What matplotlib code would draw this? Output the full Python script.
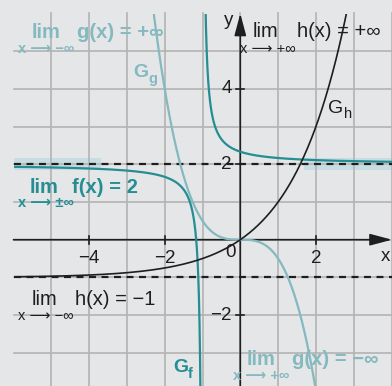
import matplotlib.pyplot as plt
import numpy as np
from matplotlib.patches import Rectangle

# function parameters
f_asym = 2.0          # lim f(x) = 2
f_pole = -1.0         # vertical asymptote of G_f
f_coef = 1.0 / 3.0    # f(x) = 2 + c/(x+1)
g_coef = -0.5         # g(x) = c * x^3
h_base = 2.0          # h(x) = b^x - 1
h_asym = -1.0

x_ticks = [-4, -2, 2]
y_ticks = [4, 2, -2]

# pixel geometry of the reference
W, H = 392, 386
ux, uy = 37.8, 37.7
x0, y0 = 240.3, 239.7
xmin, xmax = -x0 / ux, (W - x0) / ux
ymin, ymax = (y0 - H) / uy, y0 / uy

bg = '#e5e6e8'
grid_c = '#b3b3b3'
dark = '#248e93'
light = '#84b9bf'
band_c = '#c8dde2'
black = '#1e1e1e'
fam = ['Liberation Sans', 'DejaVu Sans']
ARW = '\u27f6'

fig = plt.figure(figsize=(W / 100, H / 100), dpi=100)
fig.patch.set_facecolor(bg)
ax = fig.add_axes([0, 0, 1, 1])
ax.set_facecolor(bg)
ax.set_xlim(xmin, xmax)
ax.set_ylim(ymin, ymax)
ax.axis('off')

# highlight bands along y = 2
ax.add_patch(Rectangle((-6, 1.85), -3.69 + 6, 0.31, color=band_c, lw=0, zorder=1))
ax.add_patch(Rectangle((1.69, 1.85), xmax - 1.69, 0.31, color=band_c, lw=0, zorder=1))

# grid
for gx in range(-5, 5):
    ax.plot([gx, gx], [ymin, 6], color=grid_c, lw=1.2, zorder=2)
for gy in range(-3, 6):
    ax.plot([-6, xmax], [gy, gy], color=grid_c, lw=1.2, zorder=2)

# asymptotes
lw_d = 1.6
ax.plot([-6, xmax], [f_asym, f_asym], color=black, lw=lw_d,
        ls=(0, (5 / lw_d, 4 / lw_d)), zorder=3)
ax.plot([-6, xmax], [h_asym, h_asym], color=black, lw=lw_d,
        ls=(0, (5 / lw_d, 4 / lw_d)), zorder=3)

# axes with arrows
ax.annotate('', xy=(xmax, 0), xytext=(-6, 0),
            arrowprops=dict(arrowstyle='-|>,head_length=0.75,head_width=0.2',
                            color=black, lw=1.2, mutation_scale=18,
                            shrinkA=0, shrinkB=0), zorder=4)
ax.annotate('', xy=(0, 6), xytext=(0, ymin),
            arrowprops=dict(arrowstyle='-|>,head_length=0.75,head_width=0.2',
                            color=black, lw=1.2, mutation_scale=18,
                            shrinkA=0, shrinkB=0), zorder=4)
tx, ty = 4 / ux, 4 / uy
for t in x_ticks:
    ax.plot([t, t], [-ty, ty], color=black, lw=1.2, zorder=4)
    ax.text(t, -0.5, str(t).replace('-', '\u2212'), ha='center', va='center',
            fontsize=13.5, family=fam, color=black)
for t in y_ticks:
    ax.plot([-tx, tx], [t, t], color=black, lw=1.2, zorder=4)
    ax.text(-0.22, t, str(t).replace('-', '\u2212'), ha='right', va='center',
            fontsize=13.5, family=fam, color=black)
ax.text(-0.12, -0.33, '0', ha='right', va='center', fontsize=13.5, family=fam, color=black)
ax.text(3.83, -0.45, 'x', ha='center', va='center', fontsize=13.5, family=fam, color=black)
ax.text(-0.32, 5.82, 'y', ha='center', va='center', fontsize=13.5, family=fam, color=black)

# curves, clipped to the grid area
clip = Rectangle((-6, ymin), xmax + 6, 6 - ymin, transform=ax.transData)
xl = np.linspace(-6, f_pole - 1e-4, 3000)
xr = np.linspace(f_pole + 1e-4, xmax, 3000)
xa = np.linspace(-6, xmax, 3000)
lines = []
lines += ax.plot(xl, f_asym + f_coef / (xl - f_pole), color=dark, lw=1.6, zorder=5)
lines += ax.plot(xr, f_asym + f_coef / (xr - f_pole), color=dark, lw=1.6, zorder=5)
lines += ax.plot(xa, g_coef * xa ** 3, color=light, lw=1.6, zorder=5)
lines += ax.plot(xa, h_base ** xa + h_asym, color=black, lw=1.2, zorder=5)
for ln in lines:
    ln.set_clip_path(clip)


def ptext(px, py, s, size, color, weight='normal'):
    fig.text(px / W, 1 - py / H, s, fontsize=size, color=color, weight=weight,
             family=fam, ha='left', va='baseline')


# limit annotations
ptext(32, 38, 'lim', 14.5, light, 'bold')
ptext(77, 38, 'g(x) = +\u221e', 14.5, light, 'bold')
ptext(18, 53, 'x ' + ARW + ' \u2212\u221e', 10.5, light, 'bold')

ptext(253, 37, 'lim', 14.5, black)
ptext(297, 37, 'h(x) = +\u221e', 14.5, black)
ptext(240, 53, 'x ' + ARW + ' +\u221e', 10.5, black)

ptext(30, 193, 'lim', 14.5, dark, 'bold')
ptext(72, 193, 'f(x) = 2', 14.5, dark, 'bold')
ptext(18, 207, 'x ' + ARW + ' \u00b1\u221e', 10.5, dark, 'bold')

ptext(32, 305, 'lim', 14.5, black)
ptext(75, 305, 'h(x) = \u22121', 14.5, black)
ptext(18, 320, 'x ' + ARW + ' \u2212\u221e', 10.5, black)

ptext(247, 365, 'lim', 14.5, light, 'bold')
ptext(292, 365, 'g(x) = \u2212\u221e', 14.5, light, 'bold')
ptext(233, 380, 'x ' + ARW + ' +\u221e', 10.5, light, 'bold')

# curve names
ptext(133, 77, 'G', 14, light, 'bold')
ptext(148, 83, 'g', 10.5, light, 'bold')
ptext(328, 113, 'G', 14, black)
ptext(344, 118, 'h', 10.5, black)
ptext(173, 372, 'G', 14, dark, 'bold')
ptext(188, 378, 'f', 10.5, dark, 'bold')

fig.savefig('out.png', dpi=100, facecolor=bg)
